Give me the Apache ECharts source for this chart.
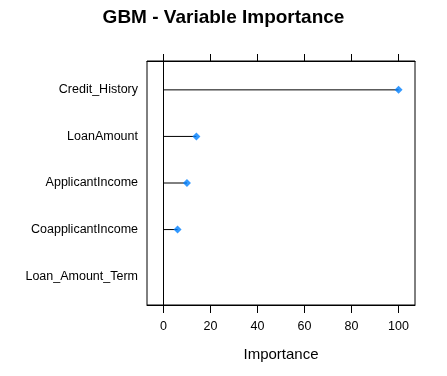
<!DOCTYPE html>
<html>
<head>
<meta charset="utf-8">
<script src="https://cdn.jsdelivr.net/npm/echarts@6/dist/echarts.min.js"></script>
<style>
  html, body { margin: 0; padding: 0; background: #fff; }
  #chart { width: 447px; height: 376px; }
</style>
</head>
<body>
<div id="chart"></div>
<script>
// Variables, top to bottom
const variables = ['Credit_History', 'LoanAmount', 'ApplicantIncome', 'CoapplicantIncome', 'Loan_Amount_Term'];
// Scaled importance (Loan_Amount_Term shows no point in the picture)
const importance = [100, 14, 10, 6, null];
const xTicks = [0, 20, 40, 60, 80, 100];
const yPositions = [1, 2, 3, 4, 5];

const points = variables.map((name, i) => [importance[i], yPositions[i], name]);

const chart = echarts.init(document.getElementById('chart'), null, { renderer: 'canvas' });

const font = 'Liberation Sans, Arial, sans-serif';

const option = {
    animation: false,
    title: {
        text: 'GBM - Variable Importance',
        left: 'center',
        top: 3,
        textStyle: { fontFamily: font, fontSize: 19, fontWeight: 'bold', color: '#000' }
    },
    grid: {
        left: 147, right: 32, top: 61, bottom: 71,
        show: true, borderColor: '#000', borderWidth: 1, backgroundColor: 'transparent'
    },
    xAxis: [
        {
            type: 'value', position: 'bottom', min: -7, max: 107,
            splitLine: { show: false },
            axisLine: { show: true, lineStyle: { color: '#000' } },
            axisTick: { show: true, length: 8, customValues: xTicks, lineStyle: { color: '#000' } },
            axisLabel: { customValues: xTicks, margin: 15, fontFamily: font, fontSize: 12.5, color: '#000' },
            name: 'Importance', nameLocation: 'middle', nameGap: 42,
            nameTextStyle: { fontFamily: font, fontSize: 15, color: '#000' }
        },
        {
            type: 'value', position: 'top', min: -7, max: 107,
            splitLine: { show: false },
            axisLine: { show: true, lineStyle: { color: '#000' } },
            axisTick: { show: true, length: 7, customValues: xTicks, lineStyle: { color: '#000' } },
            axisLabel: { show: false }
        }
    ],
    yAxis: {
        type: 'value', min: 0.38, max: 5.62, inverse: true,
        splitLine: { show: false },
        axisLine: { show: true, lineStyle: { color: '#000' } },
        axisTick: { show: false },
        axisLabel: {
            customValues: yPositions, margin: 9,
            fontFamily: font, fontSize: 12.5, color: '#000',
            formatter: v => variables[Math.round(v) - 1] || ''
        }
    },
    series: [
        {
            type: 'custom',
            xAxisIndex: 0,
            data: points,
            renderItem: function (params, api) {
                const v = api.value(0);
                if (v == null || isNaN(v)) return null;
                const a = api.coord([0, api.value(1)]);
                const b = api.coord([v, api.value(1)]);
                return {
                    type: 'line',
                    shape: { x1: a[0], y1: a[1], x2: b[0], y2: b[1] },
                    style: { stroke: '#000', lineWidth: 1 }
                };
            },
            markLine: {
                silent: true, symbol: 'none', label: { show: false },
                lineStyle: { color: '#000', width: 1, type: 'solid' },
                data: [{ xAxis: 0 }]
            },
            z: 2
        },
        {
            type: 'scatter',
            xAxisIndex: 0,
            data: points,
            symbol: 'diamond',
            symbolSize: [8, 8],
            itemStyle: { color: '#0080ff' },
            z: 3
        }
    ]
};

chart.setOption(option);
</script>
</body>
</html>
